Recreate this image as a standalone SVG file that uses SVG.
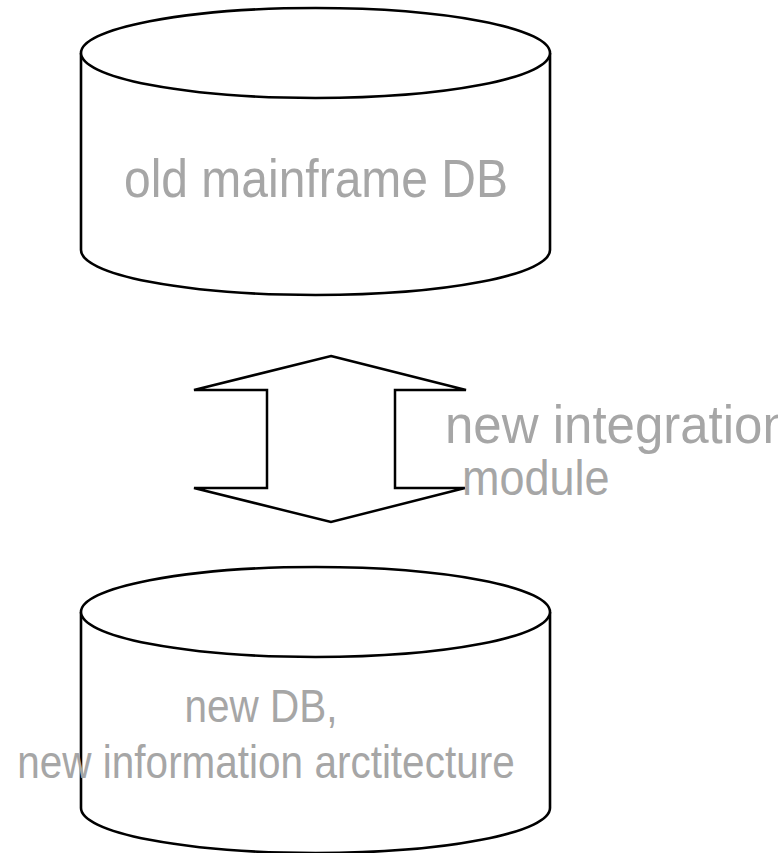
<svg xmlns="http://www.w3.org/2000/svg" width="778" height="853" viewBox="0 0 778 853">
<style>
.cyl{fill:#ffffff;stroke:#000000;stroke-width:2.6;}
.arr{fill:#ffffff;stroke:#000000;stroke-width:2.5;stroke-linejoin:miter;}
.lbl{font-family:"Liberation Sans",Arial,sans-serif;fill:#a6a6a6;}
</style>
<rect width="778" height="853" fill="#ffffff"/>
<g id="old-db">
<path class="cyl" d="M81,53 A234.5,45 0 0 1 550,53 L550,250 A234.5,45 0 0 1 81,250 Z"/>
<path class="cyl" fill="none" d="M81,53 A234.5,45 0 0 0 550,53"/>
<text class="lbl" font-size="48" text-anchor="middle" transform="translate(316,197) scale(1,1.1)">old mainframe DB</text>
</g>
<g id="connectors">
<g id="integration-arrow">
<path class="arr" d="M331,356 L466,390 L395,390 L395,488 L465,488 L331,522 L194,488 L267,488 L267,390 L194,390 Z"/>
</g>
</g>
<g id="integration-label">
<text class="lbl" font-size="51" transform="translate(445,443) scale(1,1.05)">new integration</text>
<text class="lbl" font-size="45" transform="translate(462,495) scale(1,1.1)">module</text>
</g>
<g id="new-db">
<path class="cyl" d="M81,612 A234.5,45 0 0 1 550,612 L550,808 A234.5,45 0 0 1 81,808 Z"/>
<path class="cyl" fill="none" d="M81,612 A234.5,45 0 0 0 550,612"/>
<text class="lbl" font-size="40.5" text-anchor="middle" transform="translate(261,722) scale(1,1.12)">new DB,</text>
<text class="lbl" font-size="40.5" text-anchor="middle" transform="translate(266,778) scale(1,1.12)">new information arctitecture</text>
</g>
</svg>
